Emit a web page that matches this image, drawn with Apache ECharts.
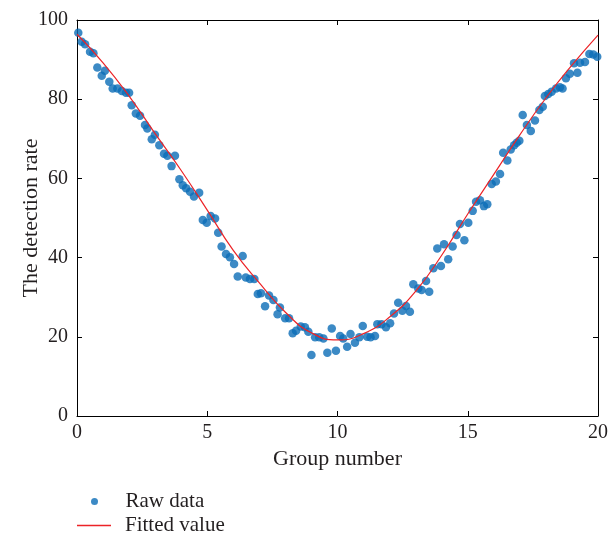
<!DOCTYPE html>
<html>
<head>
<meta charset="utf-8">
<script src="https://cdn.jsdelivr.net/npm/echarts@6/dist/echarts.min.js"></script>
<style>html,body{margin:0;padding:0;background:#fff;}#c{width:615px;height:535px;}</style>
</head>
<body>
<div id="c"></div>
<script>
// Raw data (group number, detection rate)
const rawX = [0.05,0.18,0.31,0.50,0.63,0.78,0.95,1.07,1.24,1.37,1.55,1.72,1.88,2.00,2.10,2.26,2.42,2.61,2.70,2.87,2.99,3.16,3.34,3.47,3.63,3.76,3.93,4.06,4.19,4.34,4.49,4.69,4.83,4.98,5.13,5.30,5.42,5.55,5.72,5.87,6.03,6.17,6.36,6.48,6.64,6.81,6.94,7.06,7.22,7.37,7.54,7.70,7.79,7.99,8.14,8.28,8.41,8.59,8.75,8.88,9.00,9.14,9.30,9.46,9.61,9.78,9.94,10.10,10.22,10.37,10.50,10.67,10.84,10.97,11.14,11.27,11.44,11.53,11.69,11.86,12.02,12.17,12.33,12.49,12.63,12.78,12.91,13.10,13.23,13.40,13.52,13.68,13.83,13.97,14.09,14.25,14.42,14.57,14.70,14.87,15.02,15.19,15.32,15.47,15.62,15.75,15.92,16.08,16.24,16.36,16.52,16.65,16.78,16.88,16.98,17.11,17.27,17.42,17.58,17.75,17.88,17.96,18.09,18.22,18.39,18.54,18.64,18.77,18.92,19.08,19.21,19.31,19.50,19.67,19.82,19.97];
const rawY = [96.8,94.5,93.9,92.0,91.6,88.0,85.9,87.2,84.4,82.7,82.7,82.1,81.6,81.6,78.5,76.4,75.8,73.5,72.6,69.9,71.0,68.4,66.2,65.7,63.1,65.7,59.8,58.3,57.5,56.6,55.4,56.4,49.5,48.8,50.5,49.9,46.3,42.8,40.9,40.1,38.4,35.2,40.4,35.0,34.6,34.6,30.8,31.0,27.7,30.4,29.3,25.7,27.4,24.7,24.7,20.9,21.5,22.6,22.4,21.3,15.4,19.9,19.9,19.6,16.0,22.1,16.5,20.2,19.6,17.5,20.7,18.5,19.9,22.7,20.0,19.9,20.2,23.2,23.2,22.4,23.4,25.9,28.6,26.6,27.8,26.3,33.3,32.2,31.8,34.1,31.4,37.3,42.3,37.9,43.4,39.6,42.8,45.7,48.5,44.4,48.8,51.8,54.1,54.5,53.0,53.5,58.6,59.2,61.1,66.5,64.5,67.3,68.4,69.0,69.5,76.0,73.5,72.0,74.6,77.3,78.1,80.8,81.3,81.9,82.7,83.0,82.7,85.3,86.4,89.1,86.7,89.2,89.4,91.4,91.3,90.7];
// Fitted curve, read at each group number
const fitX = [0,1,2,3,4,5,6,7,8,9,10,11,12,13,14,15,16,17,18,19,20];
const fitY = [96.4,89.2,80.8,71.3,62.0,52.0,41.8,33.6,26.2,21.0,19.2,20.8,25.0,31.5,40.6,51.0,61.0,71.0,80.3,88.6,96.2];
const xTicks = {min:0, max:20, interval:5};
const yTicks = {min:0, max:100, interval:20};

const FONT = 'Liberation Serif';
const TXT = '#231f20';
const BLUE = '#0b6db6';
const RED = '#ec2327';
const chart = echarts.init(document.getElementById('c'), null, {renderer:'canvas'});
const axisCommon = {
  axisLine:{show:true, onZero:false, lineStyle:{color:'#000', width:1}},
  axisTick:{show:true, inside:true, length:5, lineStyle:{color:'#000', width:1}},
  splitLine:{show:false}
};
chart.setOption({
  animation:false,
  backgroundColor:'#fff',
  grid:{left:77, right:17, top:20, bottom:119, containLabel:false, outerBoundsMode:'none'},
  legend:[
    {orient:'vertical', left:86, top:486, itemWidth:34, itemHeight:7,
      textStyle:{fontFamily:FONT, fontSize:21, lineHeight:20, color:TXT, padding:[0,0,0,9]},
      data:[{name:'Raw data', icon:'circle', itemStyle:{color:BLUE}}]},
    {orient:'vertical', left:72, top:510, itemWidth:34, itemHeight:1.5,
      textStyle:{fontFamily:FONT, fontSize:21, lineHeight:20, color:TXT, padding:[0,0,0,9]},
      data:[{name:'Fitted value', icon:'rect', itemStyle:{color:RED}}]}
  ],
  xAxis:[
    Object.assign({type:'value', min:xTicks.min, max:xTicks.max, interval:xTicks.interval,
      name:'Group number', nameLocation:'middle', nameGap:32, nameMoveOverlap:false,
      nameTextStyle:{fontFamily:FONT, fontSize:22, color:TXT},
      axisLabel:{fontFamily:FONT, fontSize:20, color:TXT, margin:7}}, axisCommon),
    Object.assign({type:'value', position:'top', min:xTicks.min, max:xTicks.max, interval:xTicks.interval,
      axisLabel:{show:false}}, axisCommon)
  ],
  yAxis:[
    Object.assign({type:'value', min:yTicks.min, max:yTicks.max, interval:yTicks.interval,
      name:'The detection rate', nameLocation:'middle', nameGap:35, nameRotate:90, nameMoveOverlap:false,
      nameTextStyle:{fontFamily:FONT, fontSize:22, color:TXT},
      axisLabel:{fontFamily:FONT, fontSize:20, color:TXT, margin:9}}, axisCommon),
    Object.assign({type:'value', position:'right', min:yTicks.min, max:yTicks.max, interval:yTicks.interval,
      axisLabel:{show:false}}, axisCommon)
  ],
  series:[
    {name:'Raw data', type:'scatter', symbol:'circle', symbolSize:8.5,
      itemStyle:{color:BLUE},
      data:rawX.map((x,i)=>[x, rawY[i]]), z:2},
    {name:'Fitted value', type:'line', smooth:0.5, showSymbol:false, symbol:'none',
      lineStyle:{color:RED, width:1.2}, itemStyle:{color:RED},
      data:fitX.map((x,i)=>[x, fitY[i]]), z:3}
  ]
});
</script>
</body>
</html>
